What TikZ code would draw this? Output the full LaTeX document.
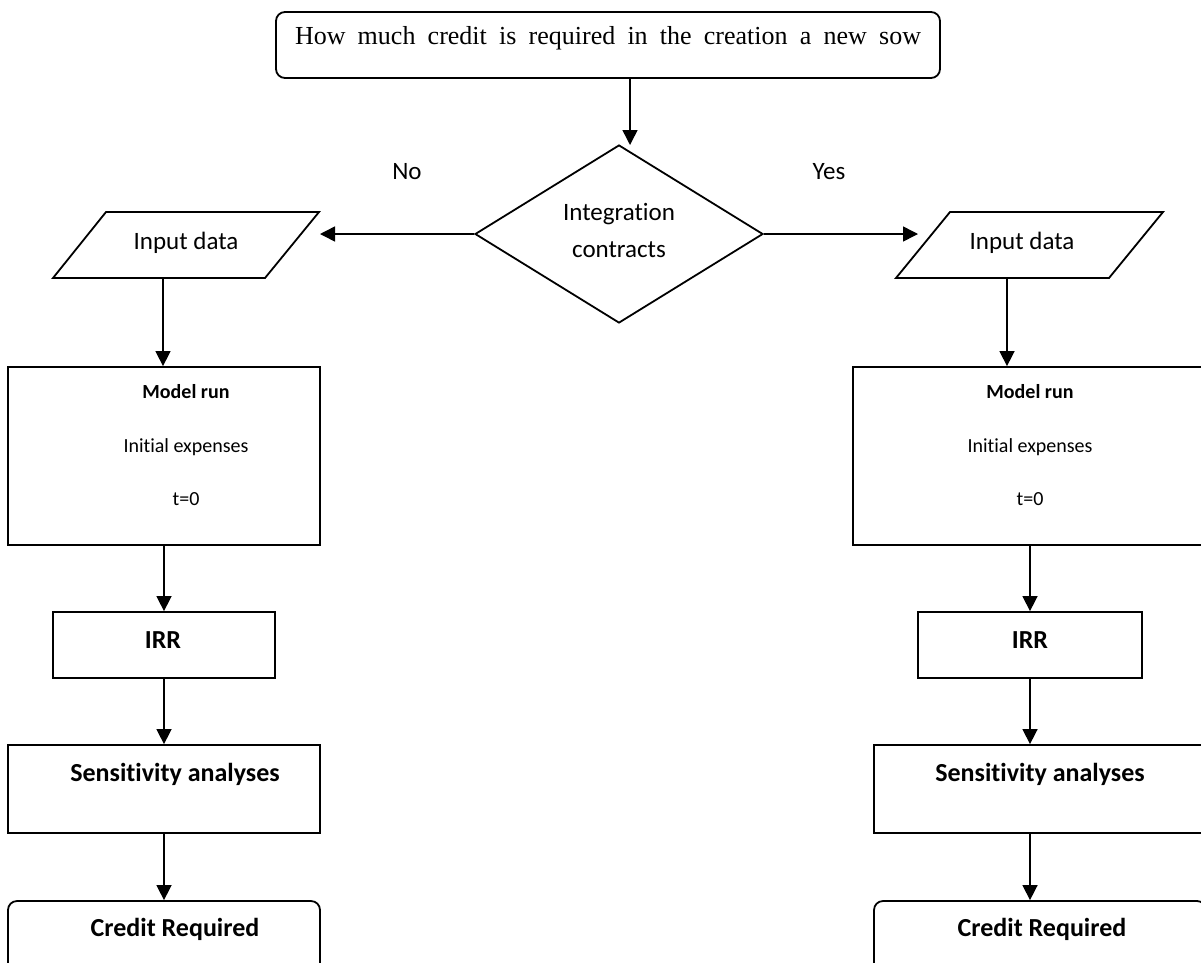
\documentclass[tikz,border=0pt]{standalone}
\usepackage{fontspec}
\setmainfont{Carlito}[Ligatures=NoCommon]
\newfontfamily\serifa{Liberation Serif}
\usetikzlibrary{arrows.meta,shapes.geometric}
\begin{document}
\begin{tikzpicture}[x=1pt,y=-1pt,
  line width=1.8pt,
  arr/.style={-{Triangle[length=15pt,width=15pt]}, line width=1.5pt},
  box/.style={draw, rectangle, inner sep=0pt, line width=1.8pt},
  rbox/.style={box, rounded corners=9pt},
  txt/.style={inner sep=0pt, font=\fontsize{25}{30}\selectfont},
  btxt/.style={inner sep=0pt, font=\fontsize{26}{30}\selectfont\bfseries},
  stxt/.style={inner sep=0pt, font=\fontsize{20}{24}\selectfont},
  sbtxt/.style={inner sep=0pt, font=\fontsize{20}{24}\selectfont\bfseries}
]
\useasboundingbox (0,0) rectangle (1201,962);
\clip (0,0) rectangle (1201,962);

% top box
\node[rbox, minimum width=664pt, minimum height=66pt] (top) at (608,45)
  {\serifa\fontsize{26}{30}\selectfont\raisebox{20pt}{\makebox[626pt][s]{How much credit is required in the creation a new sow}}};

% decision
\node[draw, line width=1.8pt, shape=diamond, minimum width=288pt, minimum height=178pt, inner sep=0pt] (dia) at (619,234) {};
\node[txt, align=center, font=\fontsize{25}{37}\selectfont] (diat) at (619,230) {Integration\\contracts};
\coordinate (ax) at (630,145);
\draw[arr] (top.south -| ax) -- (ax);

\node[txt] (no) at (407,172) {No};
\node[txt] (yes) at (829,172) {Yes};

% input data (parallelograms)
\draw (106,212) -- (319,212) -- (265,278) -- (53,278) -- cycle;
\node[txt] (inL) at (186,243) {Input data};
\draw (950,212) -- (1163,212) -- (1109,278) -- (896,278) -- cycle;
\node[txt] (inR) at (1022,243) {Input data};
\coordinate (pL) at (320,234);
\coordinate (pR) at (918,234);
\draw[arr] (dia.west) -- (pL);
\draw[arr] (dia.east) -- (pR);
\coordinate (inLb) at (163,278);
\coordinate (inRb) at (1007,278);

% left column
\node[box, minimum width=312pt, minimum height=178pt] (mL) at (164,456) {};
\node[sbtxt] (mLa) at (186,392) {Model run};
\node[stxt] (mLb) at (186,447) {Initial expenses};
\node[stxt] (mLc) at (186,499) {t=0};
\node[box, minimum width=222pt, minimum height=66pt] (irrL) at (164,645) {};
\node[btxt] (irrLt) at (163,640) {IRR};
\node[box, minimum width=312pt, minimum height=88pt] (sensL) at (164,789) {};
\node[btxt] (sensLt) at (175,774) {Sensitivity analyses};
\node[rbox, minimum width=312pt, minimum height=90pt] (credL) at (164,946) {};
\node[btxt] (credLt) at (175,929) {Credit Required};

\draw[arr] (inLb) -- (inLb |- mL.north);
\draw[arr] (mL.south) -- (irrL.north);
\draw[arr] (irrL.south) -- (irrL.south |- sensL.north);
\draw[arr] (irrL.south |- sensL.south) -- (irrL.south |- credL.north);

% right column
\node[box, minimum width=354pt, minimum height=178pt] (mR) at (1030,456) {};
\node[sbtxt] (mRa) at (1030,392) {Model run};
\node[stxt] (mRb) at (1030,447) {Initial expenses};
\node[stxt] (mRc) at (1030,499) {t=0};
\node[box, minimum width=224pt, minimum height=66pt] (irrR) at (1030,645) {};
\node[btxt] (irrRt) at (1030,640) {IRR};
\node[box, minimum width=332pt, minimum height=88pt] (sensR) at (1040,789) {};
\node[btxt] (sensRt) at (1040,774) {Sensitivity analyses};
\node[rbox, minimum width=332pt, minimum height=90pt] (credR) at (1040,946) {};
\node[btxt] (credRt) at (1042,929) {Credit Required};

\draw[arr] (inRb) -- (inRb |- mR.north);
\draw[arr] (mR.south) -- (mR.south |- irrR.north);
\draw[arr] (irrR.south) -- (irrR.south |- sensR.north);
\draw[arr] (irrR.south |- sensR.south) -- (irrR.south |- credR.north);
\end{tikzpicture}
\end{document}
